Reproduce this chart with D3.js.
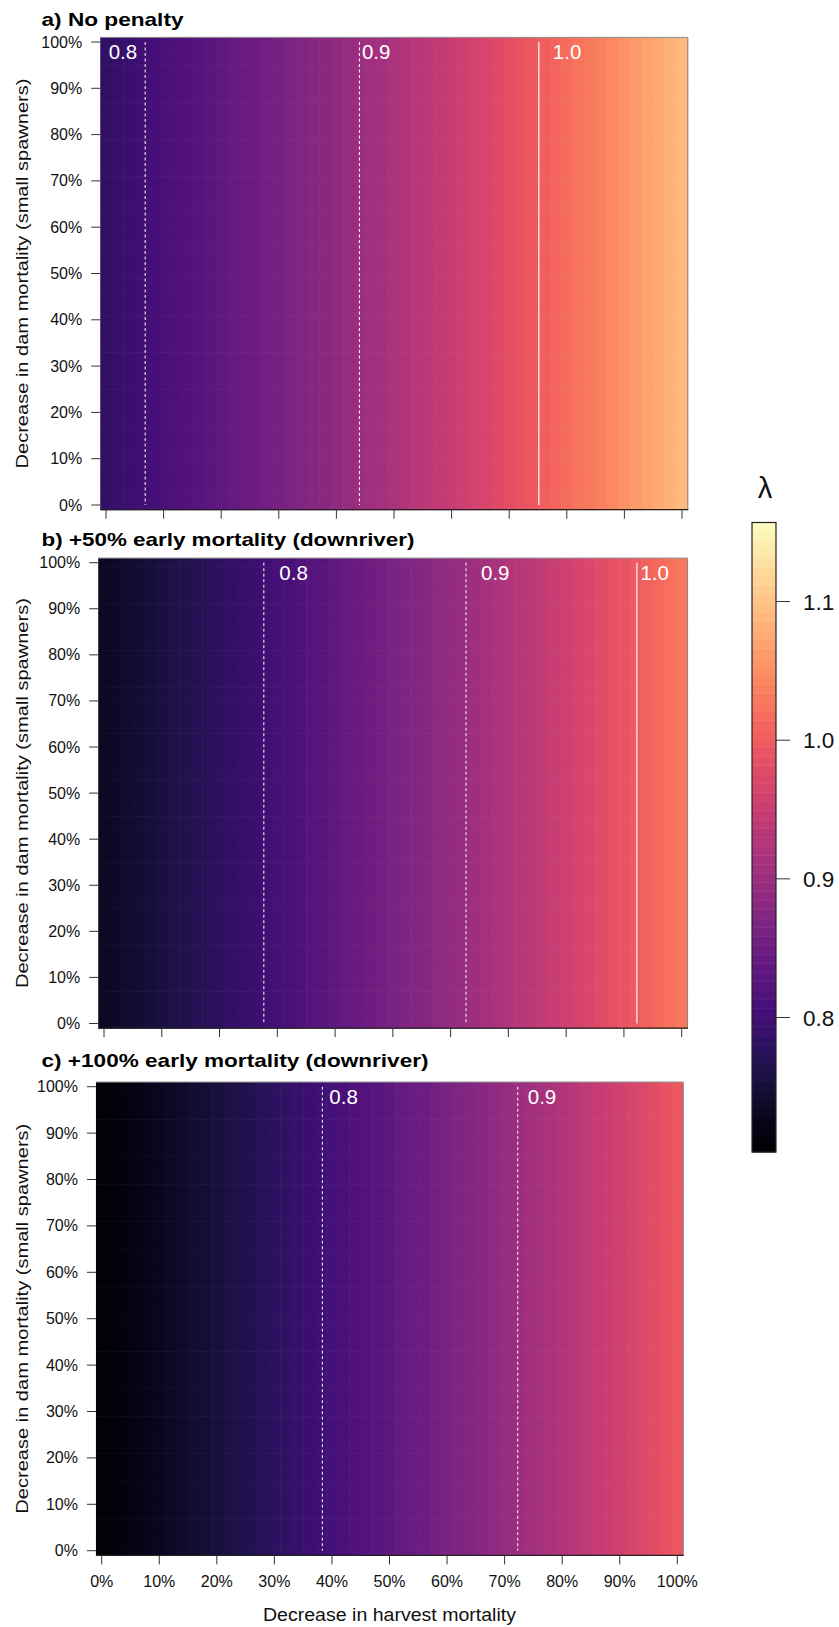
<!DOCTYPE html>
<html>
<head>
<meta charset="utf-8">
<script src="https://cdn.jsdelivr.net/npm/d3@7"></script>
<style>
  body { margin: 0; background: #fff; }
  svg { display: block; }
  text { font-family: "Liberation Sans", Arial, Helvetica, sans-serif; }
</style>
</head>
<body>
<svg id="fig" width="839" height="1627"></svg>
<script>
// Grid of management scenarios (percent decrease), 2% steps
const harvestPct = d3.range(0, 101, 2);
const damPct = d3.range(0, 101, 2);

// Axis ticks
const tickPct = [0, 10, 20, 30, 40, 50, 60, 70, 80, 90, 100];
const tickLabels = ["0%", "10%", "20%", "30%", "40%", "50%", "60%", "70%", "80%", "90%", "100%"];

// Population growth rate (lambda) by harvest-mortality decrease, one value per grid column
const lambdaNoPenalty = [
  0.784, 0.789, 0.794, 0.798, 0.803, 0.808, 0.813, 0.818, 0.823, 0.828,
  0.833, 0.838, 0.844, 0.849, 0.855, 0.860, 0.866, 0.871, 0.877, 0.882,
  0.888, 0.894, 0.900, 0.906, 0.912, 0.918, 0.924, 0.930, 0.937, 0.943,
  0.949, 0.956, 0.962, 0.969, 0.976, 0.982, 0.989, 0.996, 1.003, 1.010,
  1.017, 1.024, 1.031, 1.038, 1.045, 1.053, 1.060, 1.067, 1.075, 1.083,
  1.090
];
const lambdaPlus50 = [
  0.734, 0.738, 0.743, 0.747, 0.752, 0.756, 0.761, 0.766, 0.770, 0.775,
  0.780, 0.785, 0.790, 0.795, 0.801, 0.806, 0.811, 0.816, 0.822, 0.827,
  0.833, 0.839, 0.844, 0.850, 0.856, 0.862, 0.868, 0.874, 0.880, 0.886,
  0.892, 0.898, 0.904, 0.911, 0.917, 0.924, 0.930, 0.937, 0.944, 0.950,
  0.957, 0.964, 0.971, 0.978, 0.985, 0.992, 0.999, 1.007, 1.014, 1.021,
  1.029
];
const lambdaPlus100 = [
  0.709, 0.713, 0.717, 0.721, 0.726, 0.730, 0.735, 0.739, 0.744, 0.749,
  0.753, 0.758, 0.763, 0.768, 0.773, 0.778, 0.783, 0.789, 0.794, 0.799,
  0.805, 0.810, 0.816, 0.821, 0.827, 0.832, 0.838, 0.844, 0.850, 0.856,
  0.862, 0.868, 0.874, 0.880, 0.887, 0.893, 0.899, 0.906, 0.912, 0.919,
  0.926, 0.932, 0.939, 0.946, 0.953, 0.960, 0.967, 0.974, 0.981, 0.988,
  0.995
];

const panelTitles = [
  "a) No penalty",
  "b) +50% early mortality (downriver)",
  "c) +100% early mortality (downriver)"
];
const contourLevels = [0.8, 0.9, 1.0];
const contourLabels = ["0.8", "0.9", "1.0"];
const colorbarTicks = [0.8, 0.9, 1.0, 1.1];
const colorbarLabels = ["0.8", "0.9", "1.0", "1.1"];
const lambdaRange = [0.703, 1.157];

// Panel geometry: pixel positions of 0% and 100% on each axis
const panels = [
  { data: lambdaNoPenalty, title: panelTitles[0], titleY: 26, titleW: 142,
    x0: 106, x1: 682, y0: 505, y1: 42,
    labelDx: { "0.8": -36.5, "0.9": 2.5, "1.0": 14 }, xLabels: false },
  { data: lambdaPlus50, title: panelTitles[1], titleY: 546, titleW: 373,
    x0: 104, x1: 681.7, y0: 1023.5, y1: 562.7,
    labelDx: { "0.8": 15.5, "0.9": 15, "1.0": 3.5 }, xLabels: false },
  { data: lambdaPlus100, title: panelTitles[2], titleY: 1067, titleW: 387,
    x0: 101.7, x1: 677.3, y0: 1550.7, y1: 1086.7,
    labelDx: { "0.8": 7, "0.9": 10, "1.0": 10 }, xLabels: true }
];

const color = d3.scaleSequential(d3.interpolateMagma).domain(lambdaRange);
const svg = d3.select("#fig");

panels.forEach(p => {
  const x = d3.scaleLinear().domain([0, 100]).range([p.x0, p.x1]);
  const y = d3.scaleLinear().domain([0, 100]).range([p.y0, p.y1]);
  const g = svg.append("g");

  // title
  g.append("text")
    .attr("x", 41.5).attr("y", p.titleY)
    .attr("font-size", 19).attr("font-weight", "bold")
    .attr("textLength", p.titleW).attr("lengthAdjust", "spacingAndGlyphs")
    .text(p.title);

  // heat-map cells
  const cells = [];
  damPct.forEach(d => harvestPct.forEach((h, i) => cells.push({ h, d, v: p.data[i] })));
  g.append("g").selectAll("rect").data(cells).join("rect")
    .attr("x", c => x(c.h - 1))
    .attr("y", c => y(c.d + 1))
    .attr("width", c => x(c.h + 1) - x(c.h - 1) + 0.6)
    .attr("height", c => y(c.d - 1) - y(c.d + 1) + 0.6)
    .attr("fill", c => color(c.v));

  const left = x(-1), right = x(101), top = y(101), bottom = y(-1);

  // frame: light on top/right, dark axis on bottom
  g.append("path")
    .attr("d", `M${left},${top}H${right}V${bottom}`)
    .attr("fill", "none").attr("stroke", "#8a8a8a").attr("stroke-width", 1);
  g.append("line")
    .attr("x1", left).attr("x2", right + 0.5).attr("y1", bottom).attr("y2", bottom)
    .attr("stroke", "#222").attr("stroke-width", 1.2);

  // contour lines (vertical, lambda depends on harvest decrease)
  contourLevels.forEach((lev, k) => {
    let pos = null;
    for (let i = 0; i < p.data.length - 1; i++) {
      const a = p.data[i], b = p.data[i + 1];
      if (a < lev && b >= lev) {
        pos = harvestPct[i] + (lev - a) / (b - a) * (harvestPct[i + 1] - harvestPct[i]);
        break;
      }
    }
    if (pos === null) return;
    g.append("line")
      .attr("x1", x(pos)).attr("x2", x(pos))
      .attr("y1", y(100)).attr("y2", y(0))
      .attr("stroke", "#fff").attr("stroke-width", lev === 1.0 ? 1.2 : 1)
      .attr("stroke-dasharray", lev === 1.0 ? null : "3,2.5");
    g.append("text")
      .attr("x", x(pos) + p.labelDx[contourLabels[k]])
      .attr("y", y(100) + 17)
      .attr("font-size", 20.5).attr("fill", "#fff")
      .text(contourLabels[k]);
  });

  // y axis ticks + labels
  const yt = g.append("g");
  yt.selectAll("line").data(tickPct).join("line")
    .attr("x1", left - 9).attr("x2", left)
    .attr("y1", d => y(d)).attr("y2", d => y(d))
    .attr("stroke", "#333").attr("stroke-width", 1);
  yt.selectAll("text").data(tickPct).join("text")
    .attr("x", left - 18).attr("y", d => y(d) + 5.5)
    .attr("text-anchor", "end").attr("font-size", 16).attr("fill", "#111")
    .text((d, i) => tickLabels[i]);

  // x axis ticks (+ labels on the bottom panel)
  const xt = g.append("g");
  xt.selectAll("line").data(tickPct).join("line")
    .attr("x1", d => x(d)).attr("x2", d => x(d))
    .attr("y1", bottom).attr("y2", bottom + 9)
    .attr("stroke", "#333").attr("stroke-width", 1);
  if (p.xLabels) {
    xt.selectAll("text").data(tickPct).join("text")
      .attr("x", d => x(d)).attr("y", bottom + 31.5)
      .attr("text-anchor", "middle").attr("font-size", 16).attr("fill", "#111")
      .text((d, i) => tickLabels[i]);
    g.append("text")
      .attr("x", (x(0) + x(100)) / 2).attr("y", 1621)
      .attr("text-anchor", "middle").attr("font-size", 17.5).attr("fill", "#111")
      .attr("textLength", 253).attr("lengthAdjust", "spacingAndGlyphs")
      .text("Decrease in harvest mortality");
  }

  // y axis title
  const cy = (y(0) + y(100)) / 2;
  g.append("text")
    .attr("transform", `translate(28,${cy}) rotate(-90)`)
    .attr("text-anchor", "middle").attr("font-size", 17).attr("fill", "#111")
    .attr("textLength", 390).attr("lengthAdjust", "spacingAndGlyphs")
    .text("Decrease in dam mortality (small spawners)");
});

// colour bar
const cbX = 752, cbW = 24, cbTop = 522.5, cbBottom = 1152;
const cbScale = d3.scaleLinear().domain(lambdaRange).range([cbBottom, cbTop]);
const nBands = 70;
const bandStep = (lambdaRange[1] - lambdaRange[0]) / nBands;
const bands = d3.range(nBands).map(i => lambdaRange[0] + (i + 0.5) * bandStep);
const cb = svg.append("g");
cb.selectAll("rect").data(bands).join("rect")
  .attr("x", cbX)
  .attr("y", v => cbScale(v + bandStep / 2))
  .attr("width", cbW)
  .attr("height", v => cbScale(v - bandStep / 2) - cbScale(v + bandStep / 2) + 0.5)
  .attr("fill", v => color(v));
cb.append("rect")
  .attr("x", cbX).attr("y", cbTop).attr("width", cbW).attr("height", cbBottom - cbTop)
  .attr("fill", "none").attr("stroke", "#222").attr("stroke-width", 1.2);
cb.selectAll("line.tick").data(colorbarTicks).join("line")
  .attr("class", "tick")
  .attr("x1", cbX + cbW).attr("x2", cbX + cbW + 14)
  .attr("y1", v => cbScale(v)).attr("y2", v => cbScale(v))
  .attr("stroke", "#333");
cb.selectAll("text.lab").data(colorbarTicks).join("text")
  .attr("class", "lab")
  .attr("x", 803).attr("y", v => cbScale(v) + 8)
  .attr("font-size", 22.5).attr("fill", "#111")
  .text((v, i) => colorbarLabels[i]);
cb.append("text")
  .attr("x", 765).attr("y", 498)
  .attr("text-anchor", "middle")
  .attr("font-family", "'Liberation Serif', 'DejaVu Serif', serif")
  .attr("font-size", 29).attr("fill", "#111")
  .text("λ");
</script>
</body>
</html>
